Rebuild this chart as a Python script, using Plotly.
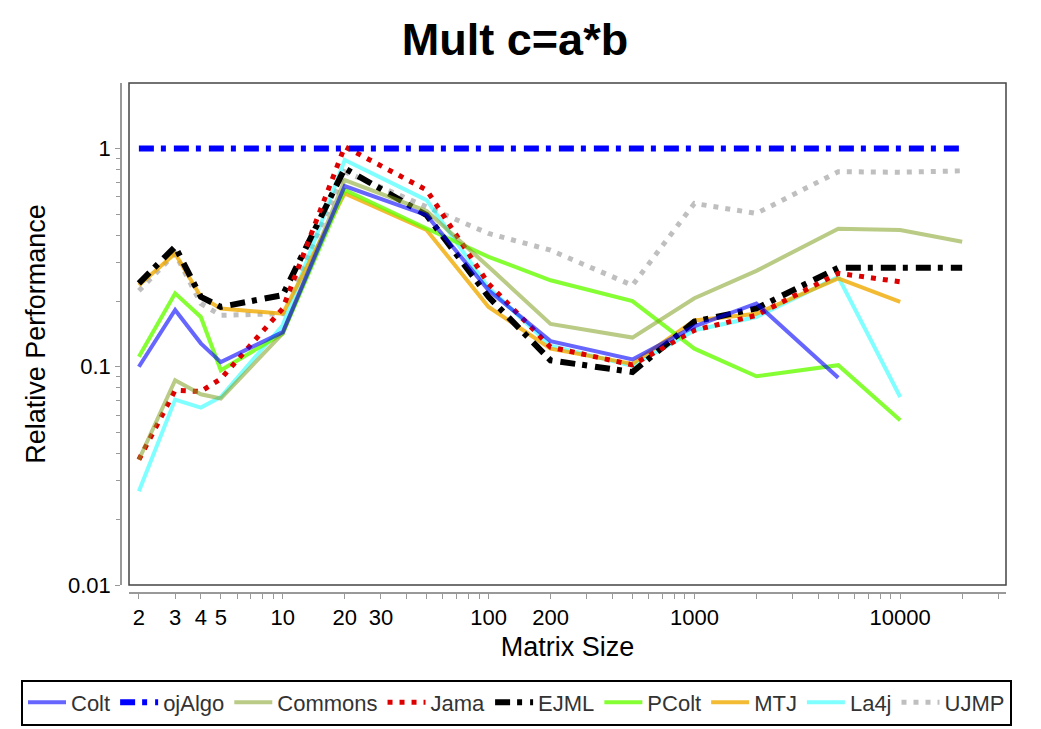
import plotly.graph_objects as go

# ---- data ----
sizes = [2, 3, 4, 5, 10, 20, 50, 100, 200, 500, 1000, 2000, 5000, 10000, 20000]

series_names = ["Colt", "ojAlgo", "Commons", "Jama", "EJML", "PColt", "MTJ", "La4j", "UJMP"]

colt = [0.100, 0.182, 0.128, 0.105, 0.144, 0.673, 0.495, 0.224, 0.131, 0.108, 0.153, 0.195, 0.089]
ojalgo = [1.0, 1.0, 1.0, 1.0, 1.0, 0.985, 0.99, 1.0, 1.0, 1.0, 1.0, 1.0, 1.0, 1.0, 1.0]
commons = [0.0375, 0.0867, 0.0748, 0.0715, 0.142, 0.717, 0.517, 0.287, 0.157, 0.136, 0.206, 0.275, 0.429, 0.423, 0.374]
jama = [0.0375, 0.078, 0.077, 0.088, 0.185, 1.02, 0.645, 0.240, 0.123, 0.102, 0.147, 0.172, 0.268, 0.245]
ejml = [0.241, 0.355, 0.209, 0.188, 0.213, 0.811, 0.495, 0.209, 0.107, 0.0946, 0.161, 0.185, 0.284, 0.284, 0.284]
pcolt = [0.111, 0.217, 0.169, 0.0964, 0.142, 0.645, 0.430, 0.319, 0.249, 0.200, 0.121, 0.0904, 0.1016, 0.0568]
mtj = [0.236, 0.330, 0.209, 0.185, 0.175, 0.623, 0.423, 0.188, 0.121, 0.103, 0.163, 0.175, 0.254, 0.198]
la4j = [0.0269, 0.0707, 0.065, 0.0727, 0.155, 0.885, 0.580, 0.230, 0.125, 0.101, 0.147, 0.169, 0.258, 0.0727]
ujmp = [0.223, 0.33, 0.195, 0.172, 0.175, 0.783, 0.54, 0.408, 0.342, 0.236, 0.560, 0.504, 0.783, 0.778, 0.79]

x_tick_vals = [2, 3, 4, 5, 10, 20, 30, 100, 200, 1000, 10000]
x_tick_text = ["2", "3", "4", "5", "10", "20", "30", "100", "200", "1000", "10000"]
x_minor_vals = [6, 7, 8, 9, 40, 50, 60, 70, 80, 90, 300, 400, 500, 600, 700, 800, 900,
                2000, 3000, 4000, 5000, 6000, 7000, 8000, 9000, 20000, 30000]
y_tick_vals = [0.01, 0.1, 1]
y_tick_text = ["0.01", "0.1", "1"]
y_minor_vals = [0.02, 0.03, 0.04, 0.05, 0.06, 0.07, 0.08, 0.09,
                0.2, 0.3, 0.4, 0.5, 0.6, 0.7, 0.8, 0.9]

values = [colt, ojalgo, commons, jama, ejml, pcolt, mtj, la4j, ujmp]

styles = {
    "Colt": dict(color="rgba(0,0,255,0.6)", width=4, dash="solid"),
    "ojAlgo": dict(color="#0000ff", width=6, dash="15px,7px,5px,8px"),
    "Commons": dict(color="rgba(128,160,32,0.55)", width=4, dash="solid"),
    "Jama": dict(color="#dd0000", width=5, dash="5px,7px"),
    "EJML": dict(color="#000000", width=6, dash="15px,7px,5px,8px"),
    "PColt": dict(color="rgba(102,255,0,0.8)", width=4, dash="solid"),
    "MTJ": dict(color="rgba(240,170,0,0.8)", width=4, dash="solid"),
    "La4j": dict(color="rgba(0,255,255,0.5)", width=4, dash="solid"),
    "UJMP": dict(color="rgba(128,128,128,0.5)", width=5, dash="5px,7px"),
}

FONT = "Liberation Sans, Arial, sans-serif"

fig = go.Figure()
# draw in reverse order (last legend entry first), legend shown reversed
for name, vals in reversed(list(zip(series_names, values))):
    fig.add_trace(go.Scatter(
        x=sizes[:len(vals)], y=vals, mode="lines", name=name,
        line=styles[name],
    ))

L, R, T, B = 121, 1006, 83, 593
W, H = 1041, 729
PW, PH = R - L, B - T
fig.update_layout(
    width=W, height=H,
    margin=dict(l=L, r=W - R, t=T, b=H - B, pad=0, autoexpand=False),
    paper_bgcolor="white", plot_bgcolor="white",
    font=dict(family=FONT, color="black", size=20),
    title=dict(text="<b>Mult c=a*b</b>", font=dict(size=45, family=FONT, color="black"),
               xref="container", x=515 / W, xanchor="center",
               yref="container", y=1 - 39 / H, yanchor="middle", pad=dict(t=0, b=0, l=0, r=0)),
    showlegend=True,
    legend=dict(orientation="h", traceorder="reversed",
                xref="paper", yref="paper",
                x=(21 - L) / PW, xanchor="left", y=(B - 702.5) / PH, yanchor="middle",
                bordercolor="black", borderwidth=2, bgcolor="white",
                font=dict(size=22, family=FONT, color="#333"),
                itemwidth=38),
    xaxis=dict(type="log", range=[0.253, 4.514],
               domain=[(129 - L) / PW, 1], anchor="free", position=0,
               showline=True, linecolor="#999", linewidth=1.5,
               showgrid=False, zeroline=False,
               tickmode="array", tickvals=x_tick_vals, ticktext=x_tick_text,
               ticks="outside", ticklen=5, tickcolor="#999", tickwidth=1,
               tickfont=dict(size=22, family=FONT, color="black"),
               minor=dict(tickmode="array", tickvals=x_minor_vals, ticks="outside",
                          ticklen=5, tickcolor="#999", tickwidth=1, showgrid=False),
               title=dict(text="Matrix Size", font=dict(size=27, family=FONT, color="black"),
                          standoff=7)),
    yaxis=dict(type="log", range=[-2.0, 0.30],
               domain=[(B - 585) / PH, 1], anchor="free", position=0,
               showline=True, linecolor="#999", linewidth=1.5,
               showgrid=False, zeroline=False,
               tickmode="array", tickvals=y_tick_vals, ticktext=y_tick_text,
               ticks="outside", ticklen=5, tickcolor="#999", tickwidth=1,
               tickfont=dict(size=22, family=FONT, color="black"),
               minor=dict(tickmode="array", tickvals=y_minor_vals, ticks="outside",
                          ticklen=4, tickcolor="#999", tickwidth=1, showgrid=False),
               title=dict(text="Relative Performance", font=dict(size=27, family=FONT, color="black"),
                          standoff=14)),
)

fig.add_shape(type="rect", xref="x domain", yref="y domain", x0=0, x1=1, y0=0, y1=1,
              line=dict(color="#444", width=1.5), fillcolor="rgba(0,0,0,0)", layer="above")

fig.write_html("out.html", config={"displayModeBar": False},
               post_script="document.body.style.margin='0px';")
